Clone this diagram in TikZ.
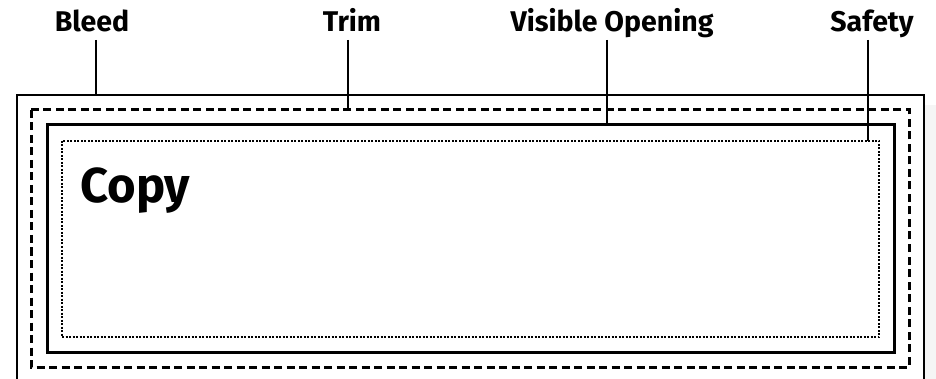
\documentclass[tikz,border=0pt]{standalone}
\usepackage{fontspec}
\setmainfont{Fira Sans}
\begin{document}
\begin{tikzpicture}[x=1pt,y=-1pt,
  lbl/.style={font=\fontsize{28.5}{30}\selectfont\bfseries, anchor=base, inner sep=0pt},
  leader/.style={line width=2.5pt},
  bleedbox/.style={line width=1.3pt},
  trimbox/.style={line width=3pt, dash pattern=on 8pt off 4.5pt},
  openbox/.style={line width=3pt},
  safebox/.style={line width=2pt, dash pattern=on 2pt off 1.5pt}]
\useasboundingbox (0,0) rectangle (936,379);
\fill[black!4] (925,105) rectangle (936,379);
% boxes
\draw[bleedbox] (17,390) -- (17,95) -- (924,95) -- (924,390);
\draw[trimbox] (31,110) rectangle (909,367);
\draw[openbox] (47,125) rectangle (894,352);
\draw[safebox] (62,141) rectangle (879,337);
% anchors on boxes
\coordinate (bleedpt) at (96,95);
\coordinate (trimpt) at (348,110);
\coordinate (openpt) at (607,125);
\coordinate (safept) at (868,141);
% labels
\node[lbl] (bleed) at (92,32) {Bleed};
\node[lbl] (trim) at (352,32) {Trim};
\node[lbl] (open) at (612,32) {Visible Opening};
\node[lbl] (safe) at (872,32) {Safety};
\coordinate (bleedtop) at (96,40);
\coordinate (trimtop) at (348,40);
\coordinate (opentop) at (607,40);
\coordinate (safetop) at (868,40);
\draw[leader] (bleedtop) -- (bleedpt);
\draw[leader] (trimtop) -- (trimpt);
\draw[leader] (opentop) -- (openpt);
\draw[leader] (safetop) -- (safept);
\node[font=\fontsize{49}{54}\selectfont\bfseries, anchor=base west, inner sep=0pt] (copy) at (80,203) {Copy};
\end{tikzpicture}
\end{document}
